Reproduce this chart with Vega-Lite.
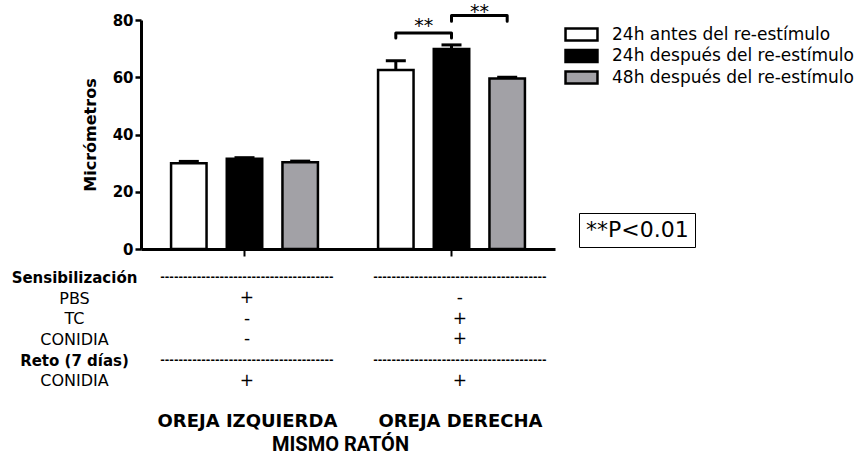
{
  "$schema": "https://vega.github.io/schema/vega-lite/v6.json",
  "background": "white",
  "padding": {"left": 11, "top": 3, "right": 0, "bottom": 0},
  "config": {"view": {"stroke": null}, "font": "DejaVu Sans", "text": {"color": "black"}},
  "datasets": {
    "barras": [
      {"oreja": "OREJA IZQUIERDA", "grupo": "24h antes del re-estímulo", "media": 30.0, "sup": 30.6},
      {"oreja": "OREJA IZQUIERDA", "grupo": "24h después del re-estímulo", "media": 31.5, "sup": 31.9},
      {"oreja": "OREJA IZQUIERDA", "grupo": "48h después del re-estímulo", "media": 30.3, "sup": 30.7},
      {"oreja": "OREJA DERECHA", "grupo": "24h antes del re-estímulo", "media": 62.5, "sup": 65.8},
      {"oreja": "OREJA DERECHA", "grupo": "24h después del re-estímulo", "media": 69.9, "sup": 71.3},
      {"oreja": "OREJA DERECHA", "grupo": "48h después del re-estímulo", "media": 59.6, "sup": 60.0}
    ],
    "corchetes": [
      {"b": 1, "o": 1, "oreja": "OREJA DERECHA", "grupo": "24h antes del re-estímulo", "y": 73.7, "nota": "**P<0.01"},
      {"b": 1, "o": 2, "oreja": "OREJA DERECHA", "grupo": "24h antes del re-estímulo", "y": 75.5, "nota": "**P<0.01"},
      {"b": 1, "o": 3, "oreja": "OREJA DERECHA", "grupo": "24h después del re-estímulo", "y": 75.5, "nota": "**P<0.01"},
      {"b": 1, "o": 4, "oreja": "OREJA DERECHA", "grupo": "24h después del re-estímulo", "y": 73.7, "nota": "**P<0.01"},
      {"b": 2, "o": 1, "oreja": "OREJA DERECHA", "grupo": "24h después del re-estímulo", "y": 79.6, "nota": "**P<0.01"},
      {"b": 2, "o": 2, "oreja": "OREJA DERECHA", "grupo": "24h después del re-estímulo", "y": 81.6, "nota": "**P<0.01"},
      {"b": 2, "o": 3, "oreja": "OREJA DERECHA", "grupo": "48h después del re-estímulo", "y": 81.6, "nota": "**P<0.01"},
      {"b": 2, "o": 4, "oreja": "OREJA DERECHA", "grupo": "48h después del re-estímulo", "y": 79.6, "nota": "**P<0.01"}
    ],
    "estrellas": [
      {"oreja": "OREJA DERECHA", "grupo": "24h antes del re-estímulo", "y": 75.7, "t": "**"},
      {"oreja": "OREJA DERECHA", "grupo": "24h después del re-estímulo", "y": 80.6, "t": "**"}
    ],
    "tabla": [
      {"fila": "Sensibilización", "oreja": "OREJA IZQUIERDA", "valor": "--------------------------------------"},
      {"fila": "Sensibilización", "oreja": "OREJA DERECHA", "valor": "--------------------------------------"},
      {"fila": "PBS", "oreja": "OREJA IZQUIERDA", "valor": "+"},
      {"fila": "PBS", "oreja": "OREJA DERECHA", "valor": "-"},
      {"fila": "TC", "oreja": "OREJA IZQUIERDA", "valor": "-"},
      {"fila": "TC", "oreja": "OREJA DERECHA", "valor": "+"},
      {"fila": "CONIDIA_1", "oreja": "OREJA IZQUIERDA", "valor": "-"},
      {"fila": "CONIDIA_1", "oreja": "OREJA DERECHA", "valor": "+"},
      {"fila": "Reto (7 días)", "oreja": "OREJA IZQUIERDA", "valor": "--------------------------------------"},
      {"fila": "Reto (7 días)", "oreja": "OREJA DERECHA", "valor": "--------------------------------------"},
      {"fila": "CONIDIA_2", "oreja": "OREJA IZQUIERDA", "valor": "+"},
      {"fila": "CONIDIA_2", "oreja": "OREJA DERECHA", "valor": "+"}
    ]
  },
  "vconcat": [
    {
      "width": 414,
      "height": 229,
      "layer": [
        {
          "data": {"name": "barras"},
          "mark": {"type": "bar", "stroke": "black", "strokeWidth": 2.5},
          "encoding": {
            "x": {"field": "oreja", "type": "nominal", "scale": {"type": "band", "domain": ["OREJA IZQUIERDA", "OREJA DERECHA"], "paddingInner": 0, "paddingOuter": 0},
                  "axis": {"labels": false, "title": null, "domainColor": "black", "domainWidth": 3, "tickColor": "black", "tickWidth": 2, "tickSize": 7, "grid": false}},
            "xOffset": {"field": "grupo", "type": "nominal", "scale": {"type": "band", "domain": ["24h antes del re-estímulo", "24h después del re-estímulo", "48h después del re-estímulo"], "paddingInner": 0.363, "paddingOuter": 0.54}},
            "y": {"field": "media", "type": "quantitative", "scale": {"domain": [0, 80], "nice": false},
                  "axis": {"title": "Micrómetros", "values": [0, 20, 40, 60, 80], "grid": false, "domainColor": "black", "domainWidth": 3, "tickColor": "black", "tickWidth": 2.5, "tickSize": 6,
                           "labelFont": "DejaVu Sans", "labelFontWeight": "bold", "labelFontSize": 15, "labelColor": "black", "labelPadding": 2,
                           "titleFont": "DejaVu Sans", "titleFontSize": 16, "titleFontWeight": "bold", "titleColor": "black", "titlePadding": 14}},
            "fill": {"field": "grupo", "type": "nominal",
                     "scale": {"domain": ["24h antes del re-estímulo", "24h después del re-estímulo", "48h después del re-estímulo"], "range": ["white", "black", "#a2a1a6"]},
                     "legend": {"title": null, "orient": "none", "legendX": 432, "legendY": 6, "symbolType": "M-2.7,-1H2.7V1H-2.7Z", "symbolSize": 140,
                                "symbolStrokeColor": "black", "symbolStrokeWidth": 2.5, "labelFont": "DejaVu Sans", "labelFontSize": 17, "labelColor": "black", "labelOffset": 22, "labelLimit": 300, "rowPadding": -1.5}}
          }
        },
        {
          "data": {"name": "barras"},
          "mark": {"type": "rule", "strokeWidth": 3, "color": "black"},
          "encoding": {
            "x": {"field": "oreja", "type": "nominal", "scale": {"type": "band", "domain": ["OREJA IZQUIERDA", "OREJA DERECHA"], "paddingInner": 0, "paddingOuter": 0}},
            "xOffset": {"field": "grupo", "type": "nominal", "scale": {"type": "band", "domain": ["24h antes del re-estímulo", "24h después del re-estímulo", "48h después del re-estímulo"], "paddingInner": 0.363, "paddingOuter": 0.54}},
            "y": {"field": "media", "type": "quantitative", "scale": {"domain": [0, 80], "nice": false}},
            "y2": {"field": "sup"}
          }
        },
        {
          "data": {"name": "barras"},
          "mark": {"type": "tick", "orient": "horizontal", "size": 20, "thickness": 3, "color": "black", "opacity": 1},
          "encoding": {
            "x": {"field": "oreja", "type": "nominal", "scale": {"type": "band", "domain": ["OREJA IZQUIERDA", "OREJA DERECHA"], "paddingInner": 0, "paddingOuter": 0}},
            "xOffset": {"field": "grupo", "type": "nominal", "scale": {"type": "band", "domain": ["24h antes del re-estímulo", "24h después del re-estímulo", "48h después del re-estímulo"], "paddingInner": 0.363, "paddingOuter": 0.54}},
            "y": {"field": "sup", "type": "quantitative", "scale": {"domain": [0, 80], "nice": false}}
          }
        },
        {
          "data": {"name": "corchetes"},
          "mark": {"type": "line", "color": "black", "strokeWidth": 3, "strokeCap": "round", "strokeJoin": "round"},
          "encoding": {
            "x": {"field": "oreja", "type": "nominal", "scale": {"type": "band", "domain": ["OREJA IZQUIERDA", "OREJA DERECHA"], "paddingInner": 0, "paddingOuter": 0}},
            "xOffset": {"field": "grupo", "type": "nominal", "scale": {"type": "band", "domain": ["24h antes del re-estímulo", "24h después del re-estímulo", "48h después del re-estímulo"], "paddingInner": 0.363, "paddingOuter": 0.54}},
            "y": {"field": "y", "type": "quantitative", "scale": {"domain": [0, 80], "nice": false}},
            "detail": {"field": "b", "type": "nominal"},
            "order": {"field": "o", "type": "quantitative"},
            "strokeDash": {"field": "nota", "type": "nominal", "scale": {"range": [[1, 0]]},
                           "legend": {"title": null, "orient": "none", "legendX": 438, "legendY": 193, "symbolSize": 1, "symbolStrokeWidth": 0, "symbolOpacity": 0,
                                      "labelFont": "DejaVu Sans", "labelFontSize": 22, "labelColor": "black", "labelOffset": -21, "strokeColor": "black", "padding": 6,
                                      "encode": {"legend": {"update": {"strokeWidth": {"value": 2}}}}}}
          }
        },
        {
          "data": {"name": "estrellas"},
          "mark": {"type": "text", "fontSize": 19, "dx": 28, "baseline": "alphabetic", "font": "DejaVu Sans", "color": "black"},
          "encoding": {
            "x": {"field": "oreja", "type": "nominal", "scale": {"type": "band", "domain": ["OREJA IZQUIERDA", "OREJA DERECHA"], "paddingInner": 0, "paddingOuter": 0}},
            "xOffset": {"field": "grupo", "type": "nominal", "scale": {"type": "band", "domain": ["24h antes del re-estímulo", "24h después del re-estímulo", "48h después del re-estímulo"], "paddingInner": 0.363, "paddingOuter": 0.54}},
            "y": {"field": "y", "type": "quantitative", "scale": {"domain": [0, 80], "nice": false}},
            "text": {"field": "t"}
          }
        }
      ]
    },
    {
      "width": 414,
      "height": 124,
      "data": {"name": "tabla"},
      "encoding": {
        "x": {"field": "oreja", "type": "nominal", "scale": {"type": "point", "domain": ["OREJA IZQUIERDA", "OREJA DERECHA"], "padding": 0.472, "align": 0.527},
              "axis": {"title": "MISMO RATÓN", "domain": false, "ticks": false, "labelAngle": 0, "labelFont": "DejaVu Sans", "labelFontWeight": "bold", "labelFontSize": 18, "labelColor": "black", "labelPadding": 21,
                       "titleFont": "Roboto", "titleFontSize": 20, "titleFontWeight": "bold", "titleColor": "black", "titlePadding": 4, "titleX": 199}},
        "y": {"field": "fila", "type": "nominal", "scale": {"type": "point", "domain": ["Sensibilización", "PBS", "TC", "CONIDIA_1", "Reto (7 días)", "CONIDIA_2"], "padding": 0.5},
              "axis": {"title": null, "domain": false, "ticks": false, "labelAlign": "center", "labelPadding": 67, "labelExpr": "split(datum.label, '_')[0]",
                       "labelFont": "DejaVu Sans", "labelColor": "black",
                       "labelFontSize": {"condition": {"test": "datum.label == 'Sensibilización' || datum.label == 'Reto (7 días)'", "value": 15}, "value": 16},
                       "labelFontWeight": {"condition": {"test": "datum.label == 'Sensibilización' || datum.label == 'Reto (7 días)'", "value": "bold"}, "value": "normal"}}},
        "text": {"field": "valor"}
      },
      "layer": [
        {"transform": [{"filter": "length(datum.valor) > 1"}], "mark": {"type": "text", "fontSize": 11, "fontWeight": "bold", "font": "DejaVu Sans", "color": "black"}},
        {"transform": [{"filter": "length(datum.valor) == 1"}], "mark": {"type": "text", "fontSize": 17, "font": "DejaVu Sans", "color": "black"}}
      ]
    }
  ],
  "spacing": 10
}
